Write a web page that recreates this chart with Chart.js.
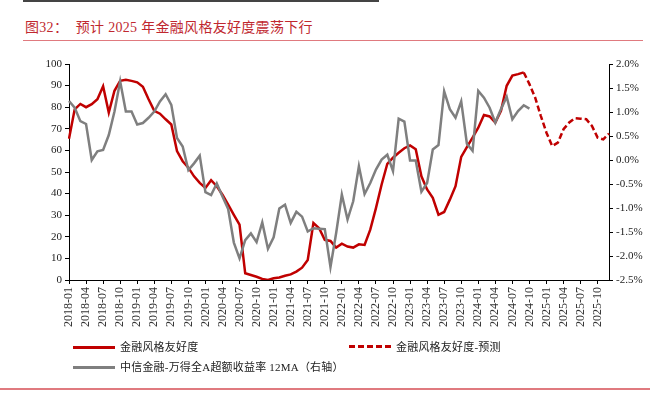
<!DOCTYPE html>
<html>
<head>
<meta charset="utf-8">
<script src="https://cdn.jsdelivr.net/npm/chart.js@4"></script>
<style>
  body { margin: 0; width: 650px; height: 395px; background: #fff; position: relative; overflow: hidden;
         font-family: "Liberation Serif", "Noto Sans CJK SC", serif; }
  #chart { position: absolute; left: 0; top: 0; }
  .abs { position: absolute; }
  .title { left: 25px; top: 16px; font-size: 14px; color: #c0282f; white-space: nowrap; letter-spacing: 0.3px; }
  .leg { font-size: 11px; color: #222; white-space: nowrap; line-height: 14px; letter-spacing: 0.2px; }
</style>
</head>
<body>
<div class="abs" style="left:23px;top:0;width:356px;height:2px;background:#444"></div>
<div class="abs title">图32：&nbsp;&nbsp;预计 2025 年金融风格友好度震荡下行</div>
<div class="abs" style="left:23px;top:40px;width:620px;height:1px;background:#e07a7f"></div>
<canvas id="chart" width="650" height="395"></canvas>

<div class="abs" style="left:73px;top:346px;width:42px;height:3px;background:#c00000"></div>
<div class="abs leg" style="left:120px;top:340px">金融风格友好度</div>
<div class="abs" style="left:349px;top:345px;width:43px;height:3px;background:repeating-linear-gradient(90deg,#c00000 0 6px,transparent 6px 9px)"></div>
<div class="abs leg" style="left:396px;top:340px">金融风格友好度-预测</div>
<div class="abs" style="left:73px;top:366px;width:42px;height:3px;background:#7f7f7f"></div>
<div class="abs leg" style="left:120px;top:360px">中信金融-万得全A超额收益率 12MA（右轴）</div>
<div class="abs" style="left:0;top:388px;width:650px;height:1.5px;background:#e07a7f"></div>

<script>
// months 2018-01 .. 2025-12
const months = [];
for (let y = 2018; y <= 2025; y++) {
  for (let m = 1; m <= 12; m++) months.push(y + '-' + String(m).padStart(2, '0'));
}

// 金融风格友好度 (left axis), 2018-01 .. 2024-09
const friendly = [
  65.4, 79, 81.5, 80, 81.4, 83.7, 89.7, 77.5, 87.6, 92.2, 92.7, 92.2,
  91.5, 89.5, 83.7, 78.3, 77, 74.4, 72, 59.7, 55, 52, 48, 45,
  42.6, 46.2, 43.4, 39.5, 34.9, 30.2, 25.6, 3.1, 2.3, 1.5, 0.5, 0,
  0.8, 1.2, 2, 2.6, 3.9, 5.7, 9.3, 26.4, 24, 18.6, 18.1, 15,
  16.8, 15.5, 15, 16.5, 16.2, 23.3, 33.3, 44.2, 53.8, 56.6, 58.9, 61,
  62.3, 60.5, 48, 41.9, 38, 30.2, 31.5, 37.2, 43.4, 57, 61.5, 65.9,
  70.5, 76.4, 75.7, 72.9, 78.3, 89.9, 94.6, 95.3, 96.1
];

// 金融风格友好度-预测, 2024-09 .. 2025-12
const forecast = [
  96.1, 90.7, 84.5, 76, 68.2, 62, 63.6, 69.8, 72.9, 74.9, 74.7, 74.4,
  71.3, 65.9, 65.1, 67.8
];

// 中信金融-万得全A超额收益率 12MA (%), right axis, 2018-01 .. 2024-10
const excess = [
  1.23, 1.09, 0.81, 0.75, 0.00, 0.18, 0.21, 0.52, 1.01, 1.64, 1.01, 1.01,
  0.74, 0.77, 0.88, 1.01, 1.22, 1.37, 1.15, 0.46, 0.28, -0.21, -0.07, 0.09,
  -0.67, -0.73, -0.49, -0.76, -1.02, -1.72, -2.05, -1.67, -1.53, -1.71, -1.30, -1.85,
  -1.61, -1.01, -0.93, -1.31, -1.08, -1.18, -1.49, -1.42, -1.43, -1.44, -2.23, -1.52,
  -0.72, -1.24, -0.86, -0.13, -0.71, -0.48, -0.20, 0.01, 0.11, -0.23, 0.86, 0.80,
  -0.01, -0.01, -0.66, -0.48, 0.22, 0.31, 1.43, 1.06, 0.88, 1.22, 0.34, 0.19,
  1.44, 1.30, 1.09, 0.78, 1.06, 1.32, 0.85, 1.02, 1.14, 1.07
];

const solidData = months.map((m, i) => i < friendly.length ? friendly[i] : null);
const fcStart = friendly.length - 1;
const forecastData = months.map((m, i) => (i >= fcStart && i - fcStart < forecast.length) ? forecast[i - fcStart] : null);
const excessData = months.map((m, i) => i < excess.length ? excess[i] : null);

const tickFont = { family: 'Liberation Serif', size: 11 };

new Chart(document.getElementById('chart'), {
  type: 'line',
  data: {
    labels: months,
    datasets: [
      { label: '中信金融-万得全A超额收益率 12MA（右轴）', data: excessData, yAxisID: 'y1',
        borderColor: '#7f7f7f', borderWidth: 2.5, pointRadius: 0, tension: 0 },
      { label: '金融风格友好度', data: solidData, yAxisID: 'y',
        borderColor: '#c00000', borderWidth: 2.5, pointRadius: 0, tension: 0 },
      { label: '金融风格友好度-预测', data: forecastData, yAxisID: 'y',
        borderColor: '#c00000', borderWidth: 2.5, borderDash: [6, 3], pointRadius: 0, tension: 0 }
    ]
  },
  options: {
    responsive: false,
    animation: false,
    devicePixelRatio: 1,
    layout: { padding: { top: 64, left: 0, right: 0, bottom: 0 } },
    plugins: { legend: { display: false }, tooltip: { enabled: false } },
    scales: {
      x: {
        offset: false,
        grid: {
          drawOnChartArea: false, tickLength: 4,
          color: ctx => (ctx.index % 3 === 0 ? '#000' : 'rgba(0,0,0,0)')
        },
        border: { color: '#000' },
        ticks: {
          autoSkip: false, maxRotation: 90, minRotation: 90, padding: 3,
          font: { family: 'Liberation Serif', size: 12 }, color: '#333',
          callback: function (v, i) { return i % 3 === 0 ? months[i] : ''; }
        },
        afterFit: s => { s.height = 115; }
      },
      y: {
        position: 'left', min: 0, max: 100,
        grid: { drawOnChartArea: false, tickLength: 4, color: '#000' },
        border: { color: '#000' },
        ticks: { stepSize: 10, font: tickFont, color: '#222', padding: 3 },
        afterFit: s => { s.width = 69; }
      },
      y1: {
        position: 'right', min: -2.5, max: 2.0,
        grid: { drawOnChartArea: false, tickLength: 4, color: '#000' },
        border: { color: '#000' },
        ticks: { stepSize: 0.5, font: tickFont, color: '#222', padding: 3,
          callback: v => v.toFixed(1) + '%' },
        afterFit: s => { s.width = 41; }
      }
    }
  }
});
</script>
</body>
</html>
